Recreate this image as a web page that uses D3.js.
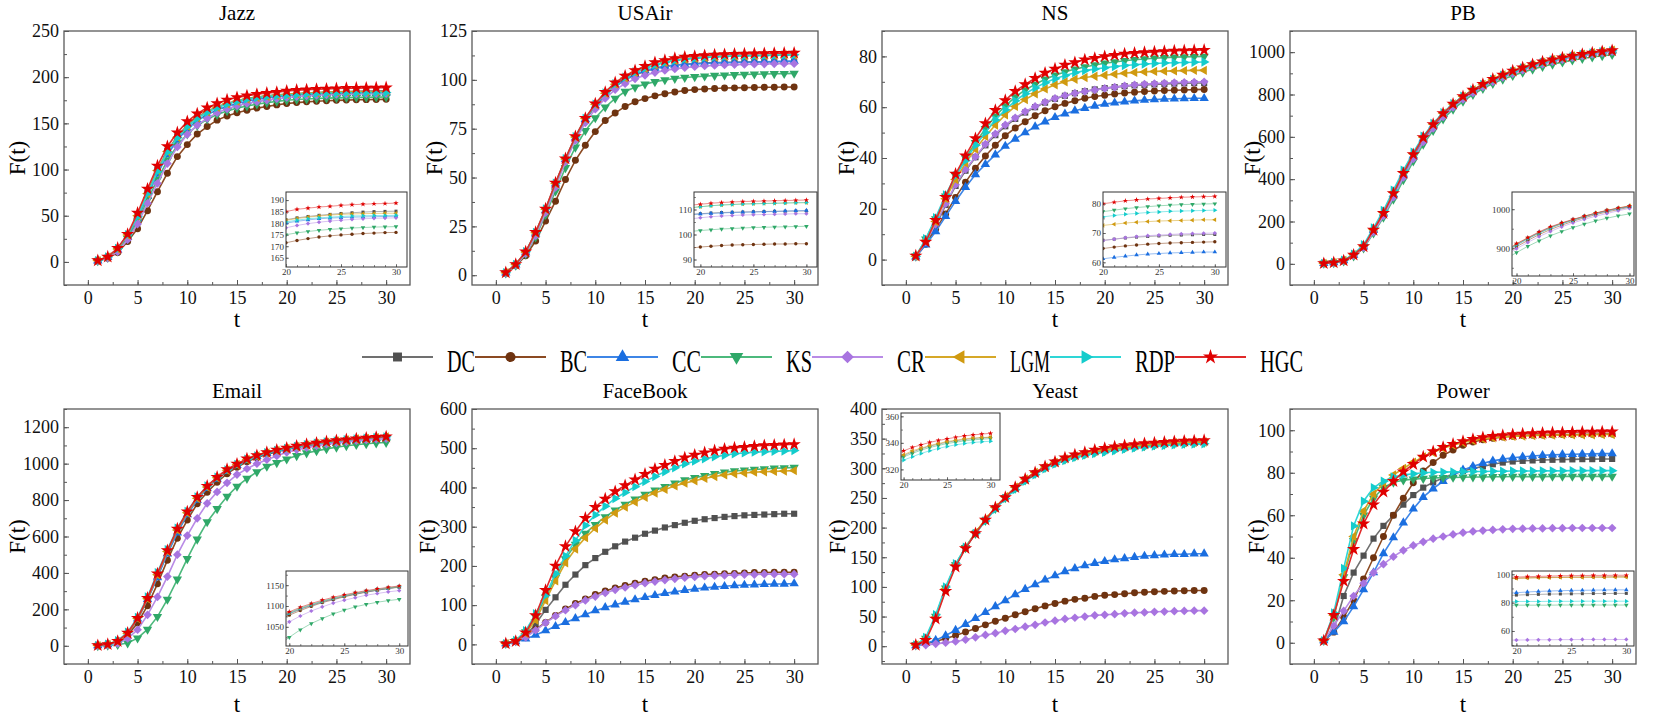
<!DOCTYPE html>
<html>
<head>
<meta charset="utf-8">
<script src="https://cdn.jsdelivr.net/npm/d3@7"></script>
<style>
  body { margin: 0; background: #fff; }
</style>
</head>
<body>
<div class="chart"></div>
<script>
// time steps and methods
const steps = d3.range(1, 31);
const methods = ['DC', 'BC', 'CC', 'KS', 'CR', 'LGM', 'RDP', 'HGC'];

// F(t) per network, rows in the order of `methods`
const jazzF = [
  [1.5,5.2,14,28.5,50,75,100,120,136,148,157,163,168,171.5,174.5,176.8,178.5,179.8,180.8,181.5,182.3,182.9,183.4,183.8,184.2,184.5,184.8,185,185.1,185.2],
  [1,4,10,22,36,55.5,76,96,114,127,138.5,146.5,153.5,158,161.6,164.2,166.5,168.3,170,171.5,172.5,173.3,174,174.5,174.9,175.2,175.5,175.7,175.9,176],
  [1.3,5,13,27,47,71,95,116,132,144,153,159.5,164.5,168.5,171.5,174,176,177.5,178.8,180,180.8,181.4,181.9,182.2,182.4,182.6,182.7,182.8,182.9,183],
  [1.2,4.6,12,25,44,67,89,110,126,138.5,147.5,154.5,159.5,163.5,166.5,168.8,170.8,172.4,173.8,175,175.8,176.4,176.9,177.3,177.6,177.9,178.1,178.3,178.4,178.5],
  [1,4.2,11,24,41,63.5,85,106.5,124.5,138,148,155.5,161.5,165.8,169,171.5,173.5,175.2,176.7,178,179,179.8,180.4,180.9,181.3,181.6,181.9,182.1,182.2,182.3],
  [1.4,5.3,14,29,50,74,99,119.5,135,147,156,162.5,167.5,171.2,174,176.3,178,179.4,180.4,181.2,182,182.6,183.1,183.5,183.8,184,184.1,184.2,184.3,184.3],
  [1.4,5.4,14.5,29.5,49,74,98,119,134.5,146.5,155.5,162,167,171,174,176.2,177.8,179,179.8,180.5,181.3,181.9,182.3,182.6,182.9,183.1,183.2,183.3,183.3,183.4],
  [1.5,5.5,15,30,53,79,104,125,140,152,160.5,167,171.5,175.5,178,180,181.5,182.8,183.8,185,186,186.5,187,187.3,187.7,188,188.2,188.4,188.5,188.7]
];
const usairF = [
  [1.2,5.3,11.5,21,33,46.5,59,70,79.5,86.5,92,96.5,100,102.5,104.4,105.8,106.8,107.5,108,108.3,108.6,108.8,108.9,109,109.1,109.2,109.3,109.3,109.4,109.4],
  [1,4.8,10,17.5,27.7,37.9,49,58.8,66.5,73.5,79.2,83,86.4,88.8,90.4,91.8,92.9,93.8,94.5,95,95.3,95.6,95.8,95.9,96,96.1,96.2,96.2,96.3,96.3],
  [1.2,5.4,11.6,21.2,33.2,46.8,59.3,70.3,79.8,86.8,92.3,96.8,100.3,102.8,104.7,106,107,107.6,108,108.2,108.4,108.6,108.8,108.9,109,109.1,109.2,109.4,109.5,109.6],
  [1.1,5,10.8,19.5,31,43,55,65.5,74,80.5,86,90.5,94,96.2,97.8,99,100,100.7,101.2,101.6,101.9,102.2,102.4,102.6,102.8,102.9,103,103.1,103.2,103.3],
  [1.1,5.1,11,20.3,32,45,58,69,78,85,90.5,95,98,100.5,102.3,103.7,104.8,105.6,106.2,106.7,107.1,107.4,107.6,107.8,107.9,108,108.1,108.2,108.3,108.3],
  [1.3,5.5,11.9,21.8,33.8,47,59.5,70.8,80.2,87.5,93.2,97.8,101,103.8,105.9,107.6,108.9,109.9,110.6,111.1,111.5,111.8,112,112.2,112.3,112.4,112.5,112.6,112.7,112.7],
  [1.3,5.5,12,21.9,33.9,47.1,59.6,70.9,80.3,87.6,93.3,98,101.3,104,106,107.7,109,110,110.7,111.1,111.5,111.8,112,112.2,112.3,112.4,112.5,112.6,112.7,112.8],
  [1.4,5.6,12,22,34,47.3,59.7,71,80.4,87.8,93.7,98.6,102,104.8,107,108.9,110,111,111.7,112.1,112.5,112.8,113,113.2,113.3,113.4,113.5,113.6,113.7,113.8]
];
const nsF = [
  [1.2,6.5,13,21.5,29,35,40.3,45,49,52.5,55.4,57.9,60,61.8,63.3,64.5,65.5,66.3,67,67.5,67.9,68.3,68.6,68.8,69,69.2,69.3,69.4,69.5,69.5],
  [1.1,6,12,18,24.5,30.5,36,40.8,45,48.8,51.8,54.3,56.6,58.6,60.2,61.5,62.5,63.5,64.2,64.7,65.2,65.6,65.9,66.2,66.4,66.6,66.7,66.8,66.9,67],
  [1.1,5.8,11,17,23,28.5,33.5,37.5,41.3,44.7,47.5,50,52.3,54.3,56,57.4,58.6,59.6,60.5,61.2,61.7,62.1,62.5,62.8,63,63.2,63.3,63.4,63.5,63.5],
  [1.3,8,16,25,33,40,46,51.5,56.5,60.5,64,66.8,69,71,72.6,73.9,75,75.8,76.6,77.3,77.8,78.3,78.7,79,79.3,79.5,79.7,79.8,79.9,80],
  [1.2,7,14,22,29.5,35.5,40.5,45.5,49.5,53,55.8,58.3,60.3,62,63.5,64.6,65.5,66.2,66.8,67.4,67.9,68.4,68.8,69.1,69.3,69.5,69.7,69.8,69.9,70],
  [1.3,7.5,15,24,31.5,38,43.5,48.5,53,57,60.3,63,65.3,67.2,68.8,70,71,71.7,72.2,72.6,73,73.4,73.7,73.9,74.1,74.2,74.3,74.4,74.5,74.5],
  [1.3,8.2,16.5,25.5,33,39,45,50,55,59,62.5,65.3,67.6,69.6,71.2,72.5,73.6,74.4,75,75.5,76,76.4,76.7,77,77.2,77.4,77.5,77.6,77.7,77.8],
  [1.5,7,15.5,24.6,33.7,40.9,47.7,53.6,58.8,62.7,66.3,69,71.4,73.5,75.1,76.6,77.6,78.7,79.3,80,80.5,81,81.3,81.6,81.8,82,82.2,82.3,82.4,82.5]
];
const pbF = [
  [2,6,15,41,80,156,234,326,420,508,588,651,704,748,785,817,844,868,889,908,924,939,952,963,972,981,989,996,1002,1007],
  [2,6,14,40,78,152,228,318,412,500,580,644,698,743,780,812,840,864,885,904,920,935,948,959,969,978,986,993,999,1005],
  [2,6,15,42,81,158,236,329,424,512,592,655,707,751,788,819,846,870,891,910,926,941,954,964,973,982,989,996,1002,1007],
  [2,5,13,37,74,145,220,305,397,485,565,630,684,730,768,800,828,852,872,889,905,919,932,943,953,962,970,977,983,988],
  [2,5,14,39,77,150,226,315,408,496,576,640,694,739,777,808,836,860,881,899,915,930,943,955,965,974,982,989,996,1002],
  [2,6,16,43,84,162,242,338,434,520,598,660,712,755,791,822,848,872,892,910,926,940,953,964,973,982,990,997,1003,1009],
  [2,7,17,46,90,170,252,348,442,527,603,663,714,757,792,822,848,871,891,909,925,939,952,963,972,981,989,996,1002,1007],
  [2,6,15,42,82,160,239,333,428,517,597,659,711,755,791,822,849,873,893,912,927,942,955,965,974,982,990,997,1003,1008]
];
const emailF = [
  [1,7,23,66,145,252,384,510,628,724,805,868,918,960,992,1020,1040,1057,1070,1081,1092,1101,1110,1117,1123,1129,1134,1138,1142,1145],
  [1,6,20,58,125,220,340,470,590,690,780,843,898,945,980,1010,1033,1051,1066,1078,1089,1099,1108,1115,1122,1128,1133,1138,1142,1146],
  [1,7,24,68,148,255,375,505,620,720,800,865,916,958,991,1019,1040,1057,1070,1082,1093,1102,1110,1117,1124,1129,1134,1138,1142,1146],
  [0,2,6,15,42,90,160,255,365,478,585,680,752,820,875,918,955,985,1005,1025,1043,1058,1070,1081,1090,1098,1104,1109,1113,1116],
  [0,3,12,40,88,170,268,380,500,605,700,782,845,895,940,972,1000,1022,1042,1062,1076,1088,1098,1107,1114,1120,1126,1130,1134,1137],
  [1,7,24,68,150,258,390,518,636,730,810,872,922,964,995,1023,1042,1059,1072,1083,1094,1103,1111,1118,1124,1130,1135,1139,1143,1146],
  [2,9,28,74,156,268,402,528,645,738,817,877,925,966,996,1024,1043,1060,1073,1084,1095,1104,1112,1119,1125,1131,1136,1140,1144,1147],
  [2,8,25,70,152,262,396,523,642,736,816,877,926,969,998,1027,1045,1062,1075,1086,1097,1106,1114,1121,1127,1132,1137,1141,1145,1148]
];
const facebookF = [
  [2,8,22,52,88,120,152,178,202,220,236,250,262,272,282,290,298,304,310,315,319,322,325,327,329,330,331,332,333,333],
  [2,8,20,38,56,74,90,104,116,127,136,144,150,156,161,165,169,172,174,176,178,179,180,181,182,183,183,184,184,184],
  [2,7,14,24,35,46,56,66,76,86,94,101,108,114,120,125,130,134,138,141,144,146,148,150,151,152,153,154,154,155],
  [2,9,32,70,120,170,218,255,283,305,325,342,357,370,382,393,402,411,419,425,430,435,439,442,444,446,447,449,450,451],
  [2,7,18,36,55,72,87,100,112,122,131,139,145,151,156,160,164,167,170,172,174,175,176,177,178,178,179,179,179,179],
  [2,8,28,62,112,162,208,243,272,296,317,335,350,363,375,386,395,404,411,417,423,428,432,435,437,439,440,441,442,443],
  [2,10,35,78,125,180,225,265,303,330,352,372,387,402,415,428,440,450,460,467,473,478,482,486,488,490,491,492,493,494],
  [2,8,30,74,138,200,250,288,322,350,371,390,405,420,434,447,457,467,476,483,489,494,498,501,503,505,507,508,509,510]
];
const yeastF = [
  [2,12,48,96,136,166,191,213,233,251,267,281,292,302,310,316,321,325,328.5,330.5,333,335.5,337.5,339,340.5,341.5,342.5,343.2,343.8,344.2],
  [1,4,8,13,18,24,30,36,42,47,53,58,63,68,72,76,79,81,84,86,87,88.5,90,91,92,92.5,93,93.5,94,94],
  [1,5,10,18,27,37,47,57,67,77,87,96,104,112,119,126,131,136,140,143,146,148,150,152,153,154,155,155,156,156],
  [2,13,50,98,137,166,190,212,232,250,266,280,291,301,309,315,320,324,327,329.5,332,334.5,336.5,338,339.5,340.5,341.5,342.2,342.8,343.2],
  [1,2,4,6,8,11,15,19,22,26,29,33,36,40,43,46,48,50,52,53,54,55.5,56.5,57,58,58.5,59,59.5,60,60],
  [2,13,49,97,137,167,192,214,234,252,268,282,293,302,310,316,321,325,328.5,331,334,336,338,339.5,341,342,343,343.6,344,344.3],
  [2,15,53,100,139,167,190,211,231,249,264,278,289,299,307,313,318,322,325,327,329.5,332,334,335.8,337.3,338.5,339.5,340.3,340.8,341.2],
  [2,10,46,93,134,165,190,213,234,251,268,282,293,303,311,318,323,327,331,334,336.5,338.5,340.3,341.8,343,344.2,345.2,346,346.6,347.2]
];
const powerF = [
  [1,6,22,33,41,49,55,60,65,69.5,73,75.5,77.5,79.3,80.8,82,83,84,84.8,85.3,85.6,85.8,86,86.1,86.2,86.3,86.4,86.4,86.5,86.5],
  [1,5,12,20,30,40,50,60,68,75.3,80.8,84.8,88.2,90.7,92.9,94.5,95.5,96.2,96.8,97.2,97.5,97.7,97.8,97.9,98,98,98.1,98.1,98.2,98.2],
  [1,5,10,17,25,33,42,49.5,56.5,63,68.5,72.5,76,79,81.3,83,84.5,85.6,86.4,87,87.5,87.9,88.2,88.4,88.6,88.7,88.8,88.9,89,89],
  [1,12,31,48,60,68,73,75.5,76.5,77,77.3,77.5,77.7,77.8,77.9,78,78,78.1,78.1,78.2,78.2,78.2,78.2,78.3,78.3,78.3,78.3,78.3,78.3,78.3],
  [1,8,15,22,28,33,37,40.5,43.5,45.8,47.5,49,50,51,51.8,52.4,52.8,53.1,53.4,53.6,53.7,53.8,53.8,53.9,53.9,54,54,54,54,54],
  [1,13,32,50,62,70,75,79,82,85,87.5,89.5,91.5,93,94.2,95.2,95.9,96.4,96.8,97.1,97.3,97.5,97.6,97.7,97.8,97.8,97.9,97.9,98,98],
  [1,14,35,55,66.6,73,76,78,79,79.5,80,80.2,80.3,80.4,80.5,80.6,80.6,80.7,80.7,80.8,80.8,80.8,80.9,80.9,80.9,81,81,81,81,81],
  [1,13,29,44,56,65,71,76,80.5,84,87.5,90,92,93.5,94.8,95.8,96.6,97.2,97.6,98,98.3,98.5,98.7,98.9,99,99.1,99.2,99.2,99.3,99.3]
];

// look of each method
const markerColor = ['#505050', '#6e3310', '#1a6ee0', '#2fa868', '#a874e0', '#d09a10', '#14cccc', '#e00000'];
const lineColor = ['#707070', '#8b4a22', '#3d85e6', '#4cb97c', '#b98be6', '#d6a828', '#2ed6d6', '#e02a2a'];
const shapes = [
  {type: d3.symbolSquare, rot: 0},
  {type: d3.symbolCircle, rot: 0},
  {type: d3.symbolTriangle, rot: 0},
  {type: d3.symbolTriangle, rot: 180},
  {type: d3.symbolSquare, rot: 45},
  {type: d3.symbolTriangle, rot: -90},
  {type: d3.symbolTriangle, rot: 90},
  {type: d3.symbolStar, rot: 0}
];

const serif = 'Liberation Serif';

let width = 1661;
let height = 717;

let svg = d3.select('.chart')
  .append('svg')
  .attr('width', width)
  .attr('height', height)
  .attr('font-family', serif);

// panel layout
const cols = [64, 472, 882, 1290];
const panels = [
  {name: 'Jazz', data: jazzF, x: cols[0], y: 31, h: 254, yd: [-25, 250], ys: 50,
    inset: {x: 222, y: 161, w: 121, h: 75, xd: [20, 31], yd: [161, 193.5], yt: [165, 170, 175, 180, 185, 190], ym: 5}},
  {name: 'USAir', data: usairF, x: cols[1], y: 31, h: 254, yd: [-5, 125], ys: 25,
    inset: {x: 222, y: 161, w: 123, h: 75, xd: [19.4, 31], yd: [87, 117], yt: [90, 100, 110], ym: 5}},
  {name: 'NS', data: nsF, x: cols[2], y: 31, h: 254, yd: [-10, 90], ys: 20,
    inset: {x: 221, y: 161, w: 123, h: 75, xd: [20, 31], yd: [58.4, 84], yt: [60, 70, 80], ym: 5}},
  {name: 'PB', data: pbF, x: cols[3], y: 31, h: 254, yd: [-100, 1100], ys: 200,
    inset: {x: 222, y: 161, w: 122, h: 84, xd: [19.6, 30.4], yd: [829, 1044], yt: [900, 1000], ym: 50}},
  {name: 'Email', data: emailF, x: cols[0], y: 409, h: 255, yd: [-100, 1300], ys: 200,
    inset: {x: 222, y: 162, w: 122, h: 75, xd: [19.7, 30.8], yd: [1004, 1184], yt: [1050, 1100, 1150], ym: 25}},
  {name: 'FaceBook', data: facebookF, x: cols[1], y: 409, h: 255, yd: [-50, 600], ys: 100, inset: null},
  {name: 'Yeast', data: yeastF, x: cols[2], y: 409, h: 255, yd: [-30, 400], ys: 50,
    inset: {x: 19, y: 4, w: 99, h: 67, xd: [19.7, 31.1], yd: [312, 362.5], yt: [320, 340, 360], ym: 10}},
  {name: 'Power', data: powerF, x: cols[3], y: 409, h: 255, yd: [-10, 110], ys: 20,
    inset: {x: 222, y: 162, w: 122, h: 75, xd: [19.6, 30.7], yd: [49.4, 102.3], yt: [60, 80, 100], ym: 10}}
];
const ylabGap = [47, 38, 36, 38, 47, 45, 45, 34];
const pw = 346;

function symbolPath(i, size) {
  return d3.symbol().type(shapes[i].type).size(size)();
}

panels.forEach((p, pi) => {
  let g = svg.append('g').attr('transform', 'translate(' + p.x + ',' + p.y + ')');
  let xScale = d3.scaleLinear().domain([-2.4, 32.4]).range([0, pw]);
  let yScale = d3.scaleLinear().domain(p.yd).range([p.h, 0]);

  // minor ticks
  let xMinor = d3.range(-2.5, 33, 2.5).filter(v => v > -2.4 && v < 32.4);
  let yMinor = d3.range(Math.ceil(p.yd[0] / (p.ys / 2)) * (p.ys / 2), p.yd[1] + 0.001, p.ys / 2);
  g.append('g')
    .attr('transform', 'translate(0,' + p.h + ')')
    .call(d3.axisBottom(xScale).tickValues(xMinor).tickSize(-3).tickFormat(''))
    .call(a => a.select('.domain').remove());
  g.append('g')
    .call(d3.axisLeft(yScale).tickValues(yMinor).tickSize(-3).tickFormat(''))
    .call(a => a.select('.domain').remove());

  // major ticks
  let xAxis = g.append('g')
    .attr('transform', 'translate(0,' + p.h + ')')
    .call(d3.axisBottom(xScale).tickValues([0, 5, 10, 15, 20, 25, 30]).tickSize(-5).tickPadding(6).tickFormat(d3.format('d')));
  let yAxis = g.append('g')
    .call(d3.axisLeft(yScale).tickValues(d3.range(0, p.yd[1] + 0.001, p.ys)).tickSize(-5).tickPadding(5).tickFormat(d3.format('d')));
  [xAxis, yAxis].forEach(a => {
    a.attr('font-family', serif).attr('font-size', 18);
    a.select('.domain').remove();
    a.selectAll('text').attr('fill', '#111');
  });
  g.selectAll('.tick line').attr('stroke', '#555');

  // frame
  g.append('rect')
    .attr('width', pw)
    .attr('height', p.h)
    .attr('fill', 'none')
    .attr('stroke', '#5a5a5a')
    .attr('stroke-width', 1.3);

  // title and labels
  g.append('text')
    .attr('x', pw / 2)
    .attr('y', -11)
    .attr('text-anchor', 'middle')
    .attr('font-family', serif)
    .attr('font-size', 21)
    .text(p.name);
  g.append('text')
    .attr('x', pw / 2)
    .attr('y', p.h + (p.y < 300 ? 42 : 48))
    .attr('text-anchor', 'middle')
    .attr('font-family', serif)
    .attr('font-size', 23)
    .text('t');
  g.append('text')
    .attr('transform', 'translate(' + (-ylabGap[pi]) + ',' + (p.h / 2) + ') rotate(-90)')
    .attr('text-anchor', 'middle')
    .attr('dy', '0.35em')
    .attr('font-family', serif)
    .attr('font-size', 23)
    .text('F(t)');

  // series
  let line = d3.line().x(d => xScale(d[0])).y(d => yScale(d[1]));
  p.data.forEach((vals, mi) => {
    let pts = steps.map((s, k) => [s, vals[k]]);
    g.append('path')
      .datum(pts)
      .attr('d', line)
      .attr('fill', 'none')
      .attr('stroke', lineColor[mi])
      .attr('stroke-width', 1.6);
    g.selectAll('.m' + mi)
      .data(pts)
      .enter()
      .append('path')
      .attr('class', 'm' + mi)
      .attr('d', symbolPath(mi, mi == 7 ? 55 : 38))
      .attr('fill', markerColor[mi])
      .attr('transform', d => 'translate(' + xScale(d[0]) + ',' + yScale(d[1]) + ') rotate(' + shapes[mi].rot + ')');
  });

  // inset
  if (p.inset) {
    let ins = p.inset;
    let ig = g.append('g').attr('transform', 'translate(' + ins.x + ',' + ins.y + ')');
    let ix = d3.scaleLinear().domain(ins.xd).range([0, ins.w]);
    let iy = d3.scaleLinear().domain(ins.yd).range([ins.h, 0]);
    let clipId = 'clip' + pi;
    ig.append('clipPath').attr('id', clipId)
      .append('rect').attr('width', ins.w).attr('height', ins.h);
    ig.append('rect')
      .attr('width', ins.w)
      .attr('height', ins.h)
      .attr('fill', '#fff');
    let ixMinor = d3.range(20, 31, 1).filter(v => v > ins.xd[0] && v < ins.xd[1]);
    let iyMinor = d3.range(Math.ceil(ins.yd[0] / ins.ym) * ins.ym, ins.yd[1], ins.ym);
    ig.append('g')
      .attr('transform', 'translate(0,' + ins.h + ')')
      .call(d3.axisBottom(ix).tickValues(ixMinor).tickSize(-2).tickFormat(''))
      .call(a => a.select('.domain').remove());
    ig.append('g')
      .call(d3.axisLeft(iy).tickValues(iyMinor).tickSize(-2).tickFormat(''))
      .call(a => a.select('.domain').remove());
    let ixa = ig.append('g')
      .attr('transform', 'translate(0,' + ins.h + ')')
      .call(d3.axisBottom(ix).tickValues([20, 25, 30]).tickSize(-3).tickPadding(2).tickFormat(d3.format('d')));
    let iya = ig.append('g')
      .call(d3.axisLeft(iy).tickValues(ins.yt).tickSize(-3).tickPadding(2).tickFormat(d3.format('d')));
    [ixa, iya].forEach(a => {
      a.attr('font-family', serif).attr('font-size', 9);
      a.select('.domain').remove();
      a.selectAll('text').attr('fill', '#333');
    });
    ig.selectAll('.tick line').attr('stroke', '#555').attr('stroke-width', 0.7);

    let sg = ig.append('g').attr('clip-path', 'url(#' + clipId + ')');
    let iline = d3.line().x(d => ix(d[0])).y(d => iy(d[1]));
    p.data.forEach((vals, mi) => {
      let pts = steps.map((s, k) => [s, vals[k]]).filter(d => d[0] >= 19);
      sg.append('path')
        .datum(pts)
        .attr('d', iline)
        .attr('fill', 'none')
        .attr('stroke', lineColor[mi])
        .attr('stroke-opacity', 0.6)
        .attr('stroke-width', 0.9);
      sg.selectAll('.im' + mi)
        .data(pts.filter(d => d[0] >= 20))
        .enter()
        .append('path')
        .attr('class', 'im' + mi)
        .attr('d', symbolPath(mi, 9))
        .attr('fill', markerColor[mi])
        .attr('transform', d => 'translate(' + ix(d[0]) + ',' + iy(d[1]) + ') rotate(' + shapes[mi].rot + ')');
    });
    ig.append('rect')
      .attr('width', ins.w)
      .attr('height', ins.h)
      .attr('fill', 'none')
      .attr('stroke', '#333')
      .attr('stroke-width', 1);
  }
});

// legend
const legendTextW = [28, 27, 29, 26, 28, 40, 40, 43];
let legend = svg.append('g').attr('id', 'legend');
let lx = 362;
let ly = 357;
methods.forEach((m, i) => {
  legend.append('line')
    .attr('x1', lx).attr('x2', lx + 71)
    .attr('y1', ly).attr('y2', ly)
    .attr('stroke', lineColor[i])
    .attr('stroke-width', 1.8);
  legend.append('path')
    .attr('d', symbolPath(i, i == 7 ? 70 : 80))
    .attr('fill', markerColor[i])
    .attr('transform', 'translate(' + (lx + 35.5) + ',' + ly + ') rotate(' + shapes[i].rot + ')');
  legend.append('text')
    .attr('x', lx + 85)
    .attr('y', ly + 15)
    .attr('textLength', legendTextW[i])
    .attr('lengthAdjust', 'spacingAndGlyphs')
    .attr('font-family', serif)
    .attr('font-size', 32)
    .text(m);
  lx += 85 + legendTextW[i];
});
</script>
</body>
</html>
